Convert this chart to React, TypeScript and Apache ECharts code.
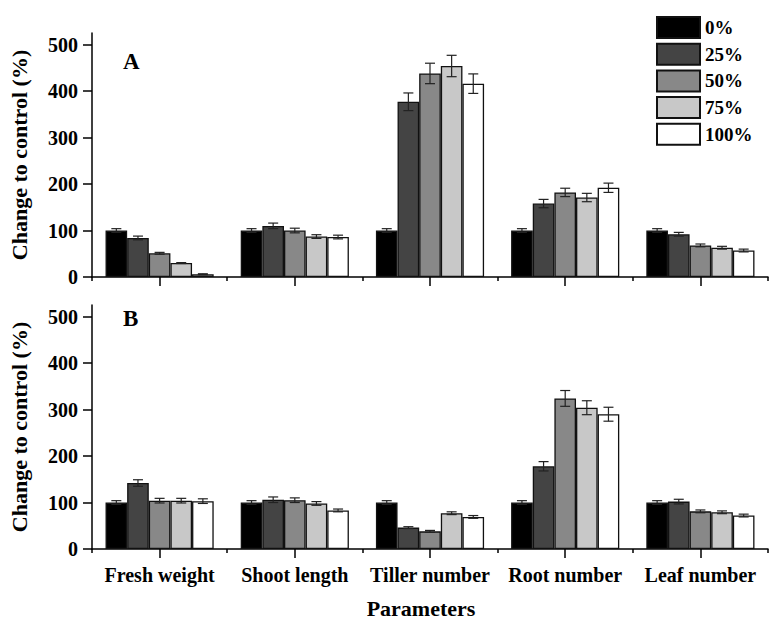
import React, { useEffect, useRef } from "react";
import * as echarts from "echarts";

const categories = ["Fresh weight", "Shoot length", "Tiller number", "Root number", "Leaf number"];
const levels = ["0%", "25%", "50%", "75%", "100%"];
const yTicks = [0, 100, 200, 300, 400, 500];

// Panel A: means (change to control, %)
const a0 = [100, 100, 100, 100, 100];
const a25 = [84, 110, 377, 158, 92];
const a50 = [51, 100, 438, 182, 68];
const a75 = [30, 87, 454, 171, 63];
const a100 = [6, 86, 416, 192, 57];
// Panel A: errors
const a0Err = [4, 4, 4, 4, 4];
const a25Err = [4, 6, 19, 9, 4];
const a50Err = [2, 5, 22, 9, 3];
const a75Err = [1, 4, 23, 9, 3];
const a100Err = [1, 4, 21, 10, 3];

// Panel B: means
const b0 = [100, 100, 100, 100, 100];
const b25 = [142, 106, 46, 178, 102];
const b50 = [104, 105, 38, 324, 81];
const b75 = [104, 98, 77, 304, 79];
const b100 = [103, 83, 69, 290, 72];
// Panel B: errors
const b0Err = [4, 4, 4, 4, 4];
const b25Err = [7, 6, 2, 10, 5];
const b50Err = [5, 5, 2, 17, 3];
const b75Err = [5, 4, 3, 15, 3];
const b100Err = [5, 3, 3, 15, 3];

const panelA = [a0, a25, a50, a75, a100];
const panelAErr = [a0Err, a25Err, a50Err, a75Err, a100Err];
const panelB = [b0, b25, b50, b75, b100];
const panelBErr = [b0Err, b25Err, b50Err, b75Err, b100Err];

const colors = ["#000000", "#444444", "#888888", "#c8c8c8", "#ffffff"];
const FONT = "'Times New Roman', 'Liberation Serif', serif";

function makeSeries(vals: number[][], errs: number[][], xIdx: number, yIdx: number) {
  const out: any[] = [];
  vals.forEach((v, i) => {
    out.push({
      type: "bar",
      name: levels[i],
      xAxisIndex: xIdx,
      yAxisIndex: yIdx,
      data: v,
      barGap: "0%",
      barCategoryGap: "20%",
      itemStyle: { color: colors[i], borderColor: "#111", borderWidth: 1.3 },
      z: 2,
    });
  });
  vals.forEach((v, i) => {
    out.push({
      type: "custom",
      name: "err" + yIdx + "_" + i,
      xAxisIndex: xIdx,
      yAxisIndex: yIdx,
      z: 5,
      data: v.map((val, k) => [k, val, errs[i][k]]),
      encode: { x: 0, y: 1 },
      renderItem: (params: any, api: any) => {
        const x = api.value(0);
        const y = api.value(1);
        const e = api.value(2);
        const band = api.size([1, 0])[0];
        const barW = (band * 0.8) / 5;
        const off = (i - 2) * barW;
        const pT = api.coord([x, y + e]);
        const pB = api.coord([x, y - e]);
        const cx = pT[0] + off;
        const hw = 5;
        const st = { stroke: "#222", lineWidth: 1.2 };
        return {
          type: "group",
          children: [
            { type: "line", shape: { x1: cx, y1: pT[1], x2: cx, y2: pB[1] }, style: st },
            { type: "line", shape: { x1: cx - hw, y1: pT[1], x2: cx + hw, y2: pT[1] }, style: st },
            { type: "line", shape: { x1: cx - hw, y1: pB[1], x2: cx + hw, y2: pB[1] }, style: st },
          ],
        };
      },
    });
  });
  return out;
}

function catAxis(grid: number, showLabels: boolean) {
  return [
    {
      type: "category",
      gridIndex: grid,
      position: "bottom",
      data: categories,
      axisLine: { show: true, lineStyle: { color: "#000", width: 1.5 } },
      axisTick: { show: true, alignWithLabel: true, length: 9, lineStyle: { color: "#000", width: 1.5 } },
      axisLabel: {
        show: showLabels,
        interval: 0,
        margin: 16,
        color: "#000",
        fontSize: 20,
        fontWeight: "bold",
        fontFamily: FONT,
      },
    },
    {
      type: "category",
      gridIndex: grid,
      position: "bottom",
      data: categories,
      axisLine: { show: false },
      axisTick: { show: true, interval: 0, alignWithLabel: false, length: 4, lineStyle: { color: "#000", width: 1.5 } },
      axisLabel: { show: false },
    },
  ];
}

function valAxis(grid: number) {
  return {
    type: "value",
    gridIndex: grid,
    min: 0,
    max: 525,
    interval: 100,
    name: "Change to control (%)",
    nameLocation: "middle",
    nameGap: 62,
    nameTextStyle: { color: "#000", fontSize: 22, fontWeight: "bold", fontFamily: FONT },
    splitLine: { show: false },
    axisLine: { show: true, lineStyle: { color: "#000", width: 1.5 } },
    axisTick: { show: true, length: 9, customValues: yTicks, lineStyle: { color: "#000", width: 1.5 } },
    axisLabel: {
      customValues: yTicks,
      margin: 14,
      color: "#000",
      fontSize: 20,
      fontWeight: "bold",
      fontFamily: FONT,
    },
  };
}

export default function App() {
  const ref = useRef<HTMLDivElement>(null);
  useEffect(() => {
    if (!ref.current) return;
    const chart = echarts.init(ref.current, null, { renderer: "svg" });
    chart.setOption({
      animation: false,
      backgroundColor: "#ffffff",
      textStyle: { fontFamily: FONT },
      grid: [
        { left: 92, width: 676, top: 33, height: 244, outerBoundsMode: "none" },
        { left: 92, width: 676, top: 305, height: 244, outerBoundsMode: "none" },
      ],
      legend: {
        data: levels,
        orient: "vertical",
        left: 651,
        top: 11,
        itemWidth: 43,
        itemHeight: 21,
        itemGap: 3.7,
        icon: "rect",
        textStyle: { color: "#000", fontSize: 19, fontWeight: "bold", fontFamily: FONT },
        selectedMode: false,
      },
      xAxis: [...catAxis(0, false), ...catAxis(1, true)],
      yAxis: [valAxis(0), valAxis(1)],
      series: [...makeSeries(panelA, panelAErr, 0, 0), ...makeSeries(panelB, panelBErr, 2, 1)],
      graphic: [
        {
          type: "text",
          left: 123,
          top: 50,
          style: { text: "A", fill: "#000", fontSize: 23, fontWeight: "bold", fontFamily: FONT },
        },
        {
          type: "text",
          left: 123,
          top: 307,
          style: { text: "B", fill: "#000", fontSize: 23, fontWeight: "bold", fontFamily: FONT },
        },
        {
          type: "text",
          x: 421,
          y: 608,
          style: {
            text: "Parameters",
            fill: "#000",
            fontSize: 22,
            fontWeight: "bold",
            fontFamily: FONT,
            align: "center",
            verticalAlign: "middle",
          },
        },
      ],
    });
    return () => chart.dispose();
  }, []);
  return (
    <div
      ref={ref}
      style={{ position: "fixed", left: 0, top: 0, width: 771, height: 621, background: "#fff" }}
    />
  );
}
